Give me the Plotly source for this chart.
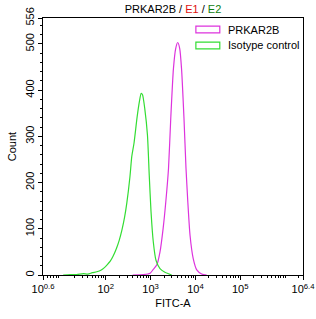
import plotly.graph_objects as go

# FITC-A intensity as log10 exponents, with event counts
prkar2b_log10 = [2.60, 2.84, 2.99, 3.06, 3.14, 3.21, 3.28, 3.34, 3.40, 3.45, 3.51, 3.56, 3.605,
                 3.65, 3.69, 3.745, 3.79, 3.83, 3.88, 3.95, 4.03, 4.14, 4.25]
prkar2b_count = [0, 1, 4, 12, 22, 50, 101, 159, 231, 339, 447, 490, 503,
                 490, 447, 339, 231, 159, 86, 36, 11, 2, 0]

isotype_log10 = [1.05, 1.20, 1.35, 1.50, 1.60, 1.70, 1.80, 1.90, 1.97, 2.03, 2.10, 2.16, 2.24, 2.30,
                 2.36, 2.42, 2.47, 2.54, 2.58, 2.63, 2.70, 2.75, 2.79, 2.82, 2.87, 2.93, 2.97,
                 3.01, 3.06, 3.12, 3.21, 3.32, 3.47]
isotype_count = [0, 1, 1, 3, 2, 5, 7, 11, 16, 22, 30, 40, 58, 75,
                 97, 125, 156, 213, 256, 285, 342, 375, 393, 390, 360, 303, 216,
                 137, 72, 32, 14, 6, 0]

series_names = ["PRKAR2B", "Isotype control"]
series_colors = ["#dd33dd", "#33dd33"]

x_tick_exps = [0.6, 2, 3, 4, 5, 6.4]
x_tick_text = ["10<sup>0.6</sup>", "10<sup>2</sup>", "10<sup>3</sup>",
               "10<sup>4</sup>", "10<sup>5</sup>", "10<sup>6.4</sup>"]
y_tick_vals = [0, 100, 200, 300, 400, 500, 556]

FONT = "Liberation Sans, Arial, sans-serif"
FS = 11

fig = go.Figure()
for name, color, lx, cy in [
    (series_names[0], series_colors[0], prkar2b_log10, prkar2b_count),
    (series_names[1], series_colors[1], isotype_log10, isotype_count),
]:
    fig.add_trace(go.Scatter(
        x=[10 ** v for v in lx], y=cy, mode="lines", name=name,
        line=dict(color=color, width=1.2, shape="spline", smoothing=0.6),
        showlegend=False, hoverinfo="skip"))

# minor log ticks
minor_vals = []
for d in range(0, 7):
    for k in range(2, 10):
        v = k * 10 ** d
        if 10 ** 0.6 < v < 10 ** 6.4:
            minor_vals.append(v)
minor_vals.append(10 ** 6)

fig.update_xaxes(
    type="log", range=[0.6, 6.4], automargin=False,
    tickvals=[10 ** e for e in x_tick_exps], ticktext=x_tick_text,
    ticks="outside", ticklen=4, tickcolor="black", tickwidth=1,
    minor=dict(tickvals=minor_vals, ticks="outside", ticklen=2, tickcolor="black"),
    showline=True, linecolor="black", linewidth=1, mirror=True,
    showgrid=False, zeroline=False,
    tickfont=dict(family=FONT, size=FS, color="black"),
    title=dict(text="FITC-A", font=dict(family=FONT, size=FS, color="black"), standoff=5),
)
fig.update_yaxes(
    range=[0, 556], tickvals=y_tick_vals, tickangle=-90, automargin=False,
    ticks="outside", ticklen=4, tickcolor="black", tickwidth=1,
    minor=dict(dtick=20, ticks="outside", ticklen=2, tickcolor="black"),
    showline=True, linecolor="black", linewidth=1, mirror=True,
    showgrid=False, zeroline=False,
    tickfont=dict(family=FONT, size=FS, color="black"),
    title=dict(text="Count", font=dict(family=FONT, size=FS, color="black"), standoff=4),
)

# legend drawn manually (outlined rectangles + labels)
legend_y = [0.955, 0.893]
for name, color, yy in zip(series_names, series_colors, legend_y):
    fig.add_shape(type="rect", xref="paper", yref="paper",
                  x0=0.588, x1=0.68, y0=yy - 0.013, y1=yy + 0.013,
                  line=dict(color=color, width=1.2), fillcolor="rgba(0,0,0,0)")
    fig.add_annotation(x=0.703, y=yy, xref="paper", yref="paper", text=name,
                       showarrow=False, xanchor="left", yanchor="middle",
                       font=dict(family=FONT, size=FS, color="black"))

fig.update_layout(
    width=316, height=319,
    margin=dict(l=43, r=13, t=18, b=44),
    paper_bgcolor="white", plot_bgcolor="white",
    title=dict(
        text="PRKAR2B / <span style='color:#e01010'>E1</span> / <span style='color:#108010'>E2</span>",
        x=(43 + 303) / 2 / 316, xanchor="center", y=1 - 9 / 319, yanchor="middle",
        font=dict(family=FONT, size=FS, color="black")),
)

fig.write_html("out.html")
